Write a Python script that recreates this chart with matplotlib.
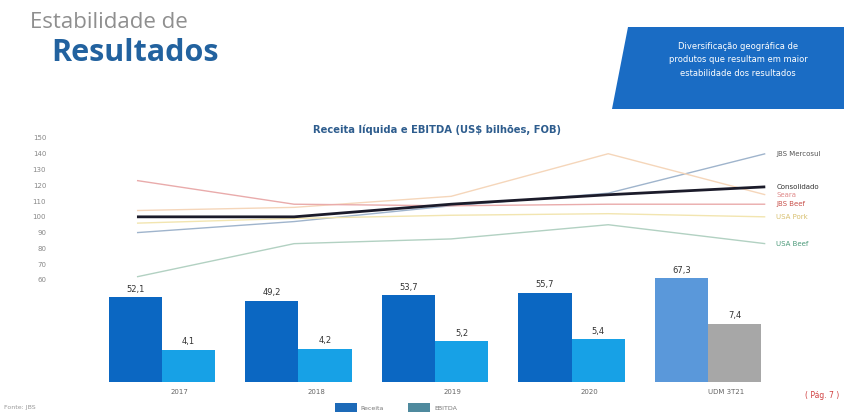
import numpy as np
import matplotlib.pyplot as plt
from matplotlib.patches import Polygon

# dados do grafico de barras (US$ bilhoes)
periodos = ["2017", "2018", "2019", "2020", "UDM 3T21"]
receita = [52.1, 49.2, 53.7, 55.7, 67.3]
ebitda = [4.1, 4.2, 5.2, 5.4, 7.4]

# indices por unidade de negocio (base 100)
consolidado = [100, 100, 108, 114, 119]
mercosul = [90, 97, 107, 115, 140]
usa_beef = [123, 108, 107, 108, 108]
seara = [104, 106, 113, 140, 114]
usa_pork = [96, 99, 101, 102, 100]
ppc = [62, 83, 86, 95, 83]
y_ticks = [150, 140, 130, 120, 110, 100, 90, 80, 70, 60]

W, H = 844, 412


def box(left, top, right, bottom):
    return [left / W, 1 - bottom / H, (right - left) / W, (bottom - top) / H]


fig = plt.figure(figsize=(W / 100, H / 100), dpi=100)
fig.patch.set_facecolor("#ffffff")

# titulo
fig.text(30 / W, 1 - 22 / H, "Estabilidade de", fontsize=16, color="#8f8f8f",
         family="Open Sans", va="center", ha="left")
fig.text(51 / W, 1 - 53 / H, "Resultados", fontsize=22, color="#22629f",
         family="Open Sans", weight="bold", va="center", ha="left")

# caixa azul
caixa = Polygon([(628 / W, 1 - 27 / H), (1.0, 1 - 27 / H), (1.0, 1 - 109 / H),
                 (612 / W, 1 - 109 / H)], closed=True, transform=fig.transFigure,
                facecolor="#1a6cc4", edgecolor="none")
fig.patches.append(caixa)
fig.text(738 / W, 1 - 60 / H,
         "Diversificação geográfica de\nprodutos que resultam em maior\nestabilidade dos resultados",
         fontsize=6, color="white", ha="center", va="center", linespacing=1.6)

# grafico de linhas
ax_l = fig.add_axes(box(60, 128, 770, 288))
ax_l.patch.set_alpha(0)
x = np.arange(len(consolidado))
series = [
    (mercosul, "#9fb4cc", 1.0, "JBS Mercosul", "#555555"),
    (seara, "#f5d6ba", 1.0, "Seara", "#e08a8a"),
    (usa_pork, "#f2e5b0", 1.0, "USA Pork", "#d8c070"),
    (ppc, "#b2d1c2", 1.0, "USA Beef", "#4c9a7a"),
    (usa_beef, "#e9abab", 1.0, "JBS Beef", "#c8504a"),
    (consolidado, "#1b1b2a", 2.0, "Consolidado", "#333333"),
]
for vals, cor, lw, nome, cor_txt in series:
    ax_l.plot(x, vals, color=cor, lw=lw, solid_capstyle="butt")
    ax_l.annotate(nome, xy=(x[-1], vals[-1]), xytext=(8, 0),
                  textcoords="offset points", fontsize=5, color=cor_txt,
                  va="center", ha="left", annotation_clip=False)
ax_l.set_xlim(-0.49, 4.03)
ax_l.set_ylim(54.9, 156.3)
ax_l.set_yticks(y_ticks)
ax_l.set_xticks([])
ax_l.tick_params(axis="y", length=0, labelsize=5, labelcolor="#888888", pad=10)
for s in ax_l.spines.values():
    s.set_visible(False)

fig.text(437 / W, 1 - 130 / H, "Receita líquida e EBITDA (US$ bilhões, FOB)",
         fontsize=7.2, color="#2e5d8e", ha="center", va="center", weight="bold")

# grafico de barras
ax_b = fig.add_axes(box(100, 260, 780, 382))
ax_b.patch.set_alpha(0)
ax_e = ax_b.twinx()
xb = np.arange(len(periodos))
w = 0.39
cores_r = ["#0b67c2"] * 4 + ["#5a98da"]
cores_e = ["#17a1e6"] * 4 + ["#a7a7a7"]
base = -16
ax_b.set_ylim(base, 82)
ax_e.set_ylim(0, 15.5)
ax_b.bar(xb - w / 2, np.array(receita) - base, w, bottom=base, color=cores_r)
ax_e.bar(xb + w / 2, ebitda, w, color=cores_e)
for xi, v in zip(xb, receita):
    ax_b.annotate(f"{v:.1f}".replace(".", ","), xy=(xi - w / 2, v), xytext=(0, 4),
                  textcoords="offset points", ha="center", fontsize=6, color="#333333")
for xi, v in zip(xb, ebitda):
    ax_e.annotate(f"{v:.1f}".replace(".", ","), xy=(xi + w / 2, v), xytext=(0, 4),
                  textcoords="offset points", ha="center", fontsize=6, color="#333333")
ax_b.set_xlim(-0.454, 4.527)
ax_b.set_xticks(xb + 0.13)
ax_b.set_xticklabels(periodos)
ax_b.tick_params(axis="x", length=0, labelsize=5, labelcolor="#666666", pad=5)
ax_b.set_yticks([])
ax_e.set_yticks([])
for a in (ax_b, ax_e):
    for s in a.spines.values():
        s.set_visible(False)

# legenda
fig.patches.append(plt.Rectangle((335 / W, 0), 22 / W, 9 / H, transform=fig.transFigure,
                                 facecolor="#1d6ab8", edgecolor="none"))
fig.text(360 / W, 3 / H, "Receita", fontsize=4.5, color="#777777", va="center")
fig.patches.append(plt.Rectangle((408 / W, 0), 22 / W, 9 / H, transform=fig.transFigure,
                                 facecolor="#4f8a9e", edgecolor="none"))
fig.text(434 / W, 3 / H, "EBITDA", fontsize=4.5, color="#777777", va="center")

fig.text(4 / W, 5 / H, "Fonte: JBS", fontsize=4.5, color="#999999", va="center")
fig.text(805 / W, 1 - 396 / H, "( Pág. 7 )", fontsize=5.5, color="#d04040", va="center")

fig.savefig("out.png", dpi=100)
